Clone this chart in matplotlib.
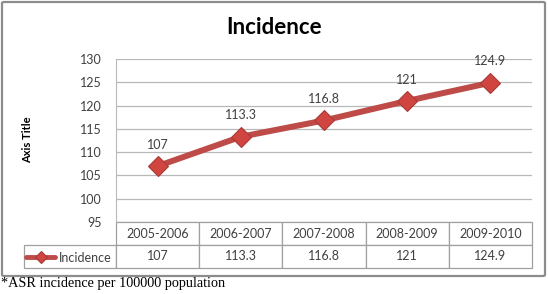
import matplotlib
matplotlib.use("Agg")
import matplotlib.pyplot as plt
from matplotlib.patches import FancyBboxPatch

# chart data
periods = ["2005-2006", "2006-2007", "2007-2008", "2008-2009", "2009-2010"]
incidence = [107, 113.3, 116.8, 121, 124.9]
series_name = "Incidence"
yticks = [95, 100, 105, 110, 115, 120, 125, 130]

W, H = 548, 294
red = "#BE4B48"
grey_txt = "#404040"
grid_col = "#B8B8B8"

plt.rcParams["font.family"] = ["Lato", "DejaVu Sans"]

fig = plt.figure(figsize=(W / 100, H / 100), dpi=100)

# outer chart border
fig.patches.append(FancyBboxPatch((2 / W, 1 - 276 / H), 543 / W, 274 / H,
                                  boxstyle="round,pad=0,rounding_size=0.004",
                                  transform=fig.transFigure, fill=False,
                                  edgecolor="#8C8C8C", linewidth=1.6))

# plot area (pixel layout)
left, right, top, bottom = 116, 532, 59, 222
ax = fig.add_axes([left / W, 1 - bottom / H, (right - left) / W, (bottom - top) / H])

x = range(len(periods))
line, = ax.plot(x, incidence, color=red, linewidth=4.3, marker="D", markersize=10,
                markerfacecolor="#D0453F", markeredgecolor="#A83A37", markeredgewidth=0.8,
                label=series_name, solid_capstyle="round", zorder=3)

for xi, v in zip(x, incidence):
    ax.annotate(f"{v:g}", (xi, v), xytext=(0, 11), textcoords="offset points",
                ha="center", va="bottom", fontsize=9, color=grey_txt)

ax.set_xlim(-0.5, len(periods) - 0.5)
ax.set_ylim(95, 130)
ax.set_yticks(yticks)
ax.set_xticks([])
ax.yaxis.grid(True, color=grid_col, linewidth=0.9)
ax.set_axisbelow(True)
ax.tick_params(axis="y", length=0, pad=10, labelsize=9, labelcolor=grey_txt)
for s in ["top", "right", "bottom"]:
    ax.spines[s].set_visible(False)
ax.spines["left"].set_color(grid_col)

# data table under the plot
tbl_left, tbl_bottom = 24, 268
first_w = left - tbl_left
col_w = (right - left) / len(periods)
total_w = right - tbl_left
cell_text = [[""] + periods, [""] + [f"{v:g}" for v in incidence]]
tbl = ax.table(cellText=cell_text,
               colWidths=[first_w / total_w] + [col_w / total_w] * len(periods),
               cellLoc="center",
               bbox=[-(first_w) / (right - left), -(tbl_bottom - bottom) / (bottom - top),
                     total_w / (right - left), (tbl_bottom - bottom) / (bottom - top)])
tbl.auto_set_font_size(False)
tbl.set_fontsize(9)
for (r, c), cell in tbl.get_celld().items():
    cell.set_edgecolor("#A0A0A0")
    cell.set_linewidth(0.9)
    cell.get_text().set_color(grey_txt)
    if r == 0 and c == 0:
        cell.visible_edges = ""

# legend key inside the first table cell
leg = fig.legend(handles=[line], loc="center left",
                 bbox_to_anchor=(26 / W, 1 - 257.5 / H), frameon=False,
                 fontsize=9, handlelength=2.35, handletextpad=0.25,
                 borderpad=0, borderaxespad=0)
for t in leg.get_texts():
    t.set_color(grey_txt)
for h in leg.legend_handles:
    h.set_markersize(6)
    h.set_linewidth(3.5)

fig.text(274 / W, 1 - 27 / H, "Incidence", ha="center", va="center",
         fontsize=16, fontweight="bold", color="black")
fig.text(28 / W, 1 - 140 / H, "Axis Title", ha="center", va="center",
         rotation=90, fontsize=8, fontweight="bold", color="black")
fig.text(1 / W, 1 - 284 / H, "*ASR incidence per 100000 population", ha="left",
         va="center", fontsize=10.3, family=["Liberation Serif", "DejaVu Serif"], color="black")

fig.savefig("out.png", dpi=100)
